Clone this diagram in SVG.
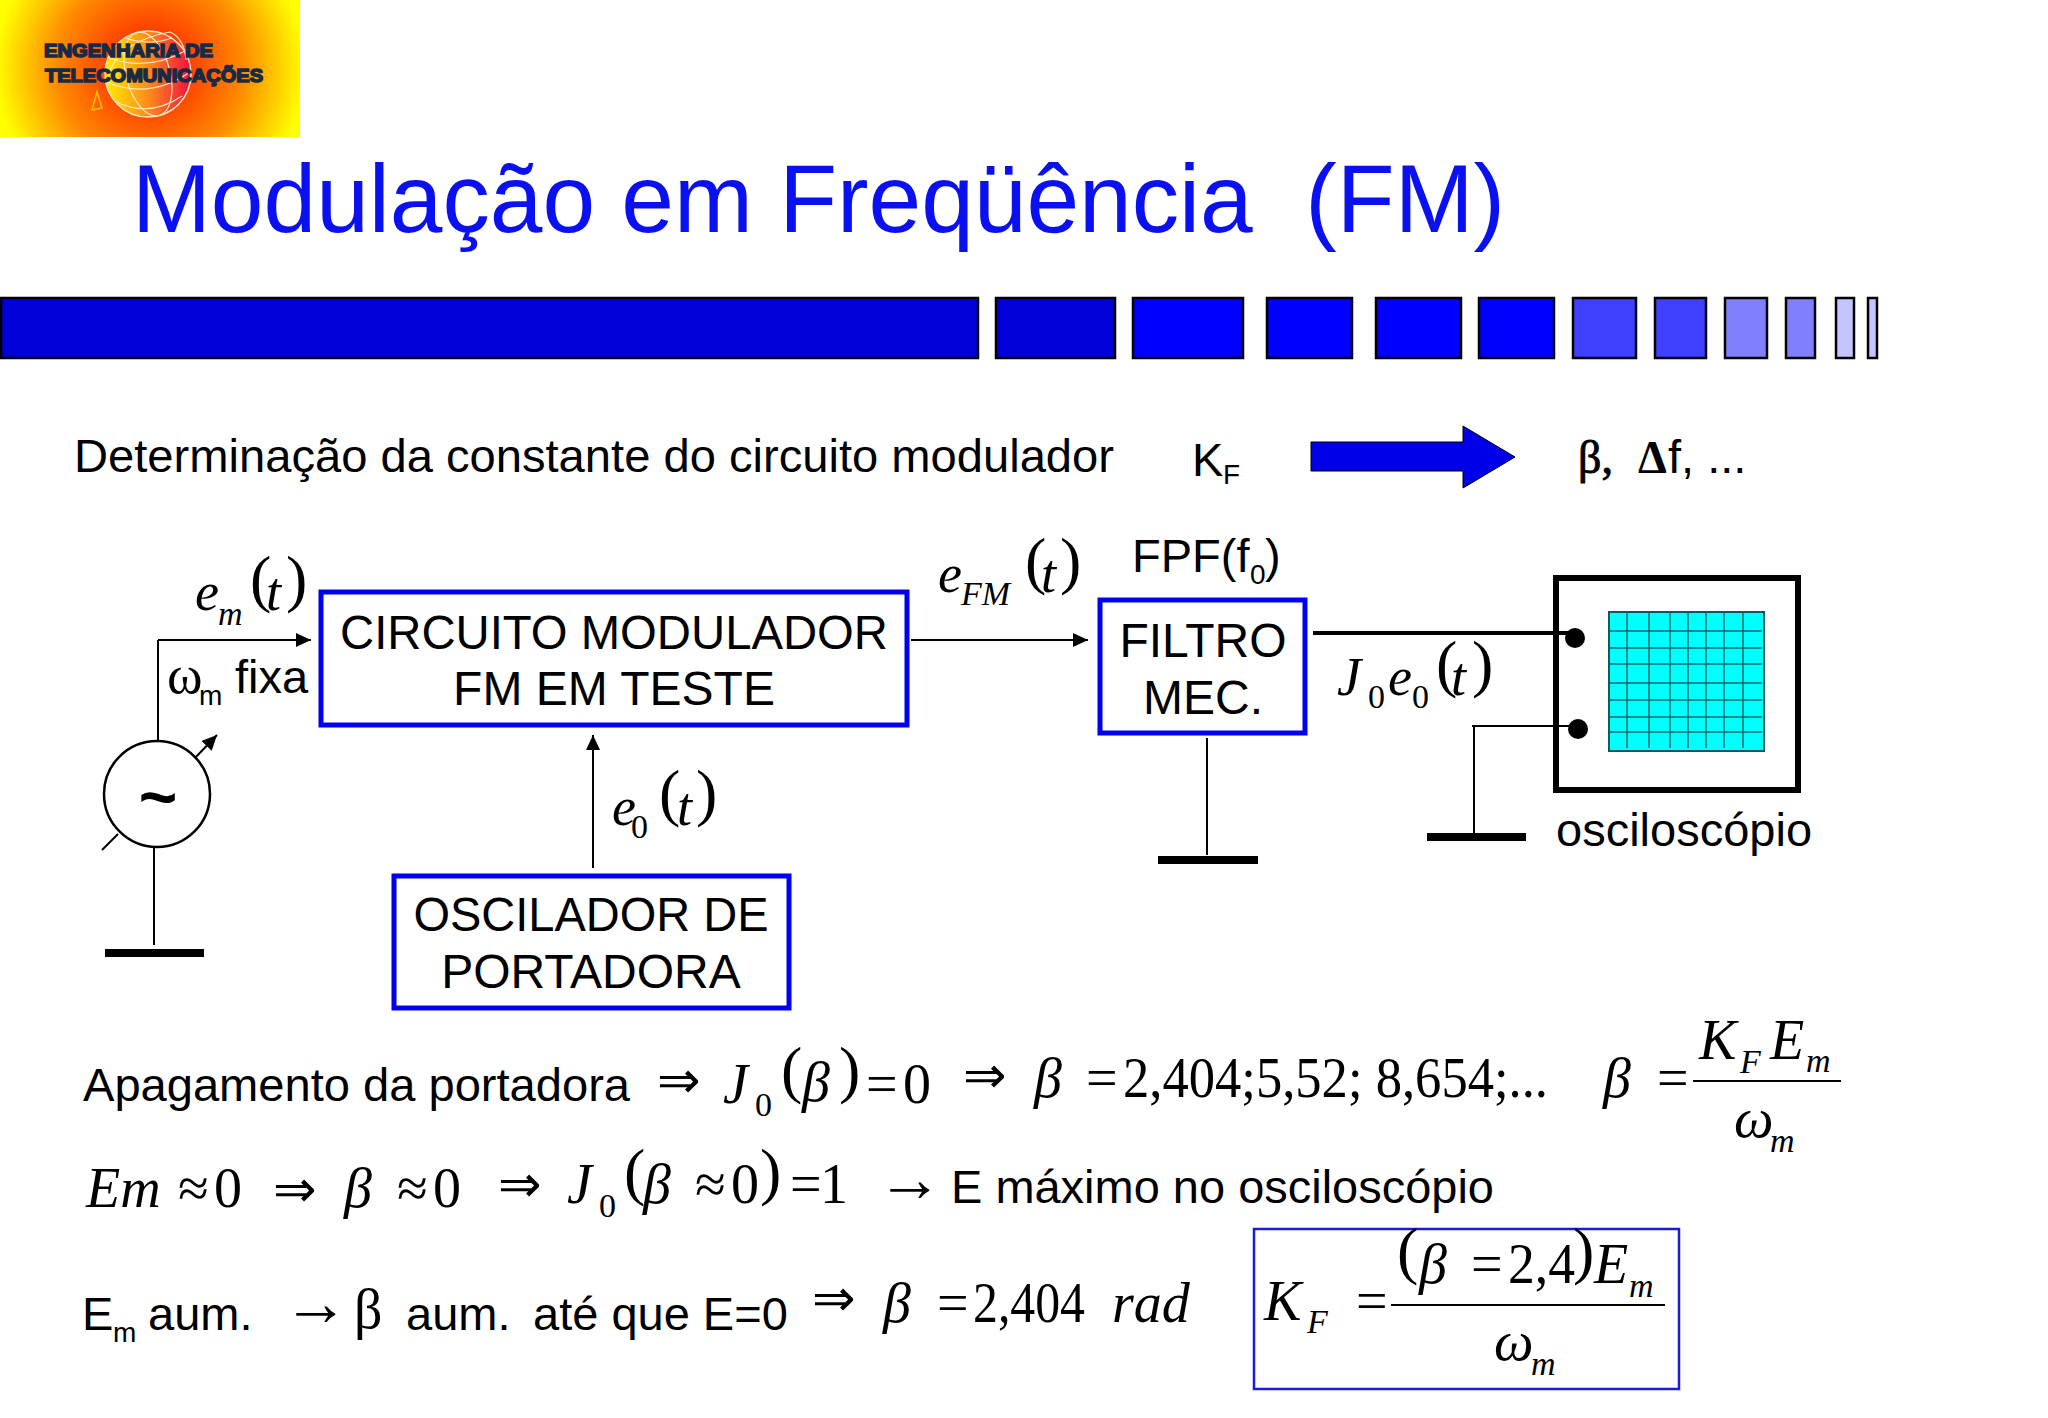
<svg xmlns="http://www.w3.org/2000/svg" width="2048" height="1418" viewBox="0 0 2048 1418">
<style>
text{fill:#000}
.s{font-family:"Liberation Sans",Arial,sans-serif;font-size:47px}
.bx{font-family:"Liberation Sans",Arial,sans-serif;font-size:48px}
.ss{font-family:"Liberation Sans",Arial,sans-serif;font-size:28px}
.m{font-family:"Liberation Serif","DejaVu Serif",serif;font-size:56px}
.n{font-family:"Liberation Serif","DejaVu Serif",serif;font-size:54px}
.h{font-family:"Liberation Serif","DejaVu Serif",serif;font-size:46px}
.i{font-style:italic}
.sub{font-family:"Liberation Serif","DejaVu Serif",serif;font-size:34px}
.p{font-family:"Liberation Serif",serif;font-size:64px}
.sym{font-family:"Liberation Serif","DejaVu Sans",serif;font-size:52px}
.arr{font-family:"Liberation Serif","DejaVu Sans",serif;font-size:66px}
.box{fill:#fff;stroke:#0000f0;stroke-width:5}
.bar{stroke:#000;stroke-width:2.5}
.l{stroke:#000;stroke-width:2;fill:none}
.gnd{fill:#000}
.g{stroke:#0a6a6a;stroke-width:1.5}
</style>
<defs>
<radialGradient id="lg" gradientUnits="userSpaceOnUse" cx="150" cy="68" r="155"><stop offset="0.15" stop-color="#ff2c00"/><stop offset="0.6" stop-color="#ff8a00"/><stop offset="1" stop-color="#ffff00"/></radialGradient>
<linearGradient id="gl"><stop offset="0" stop-color="#ffee00"/><stop offset="0.55" stop-color="#ff8020"/><stop offset="1" stop-color="#f01040"/></linearGradient>
<marker id="ah" markerUnits="userSpaceOnUse" markerWidth="16" markerHeight="14" refX="15" refY="7" orient="auto"><path d="M0 0L15 7L0 14z" fill="#000"/></marker>
</defs>
<rect width="2048" height="1418" fill="#fff"/>
<g id="logo">
<rect x="0" y="0" width="300" height="137" fill="url(#lg)"/>
<circle cx="148" cy="74" r="43" fill="url(#gl)" stroke="#ffe8c0" stroke-width="1.5"/>
<g fill="none" stroke="#ffe8c0" stroke-width="1.2">
<ellipse cx="148" cy="74" rx="22" ry="43" transform="rotate(-15 148 74)"/>
<path d="M109 58Q148 72 187 50M106 82Q150 100 190 72M116 102Q150 118 182 96M125 38Q150 46 172 38"/>
<path d="M110 70Q125 40 170 32Q184 38 186 60"/>
</g>
<path d="M92 110L97 92L102 108z" fill="none" stroke="#ffc000" stroke-width="1.5"/>
<g font-family="'Liberation Sans',Arial,sans-serif" font-weight="700" font-size="19" stroke="#1a2a44" stroke-width="1.6">
<text x="44" y="57" textLength="169" lengthAdjust="spacingAndGlyphs" style="fill:#1a2a44">ENGENHARIA DE</text>
<text x="45" y="82" textLength="218" lengthAdjust="spacingAndGlyphs" style="fill:#1a2a44">TELECOMUNICAÇÕES</text>
</g>
</g>
<text id="title" x="132" y="232" font-family="'Liberation Sans',Arial,sans-serif" font-size="96" style="fill:#0a10f0;white-space:pre" textLength="1373" lengthAdjust="spacingAndGlyphs">Modulação em Freqüência  (FM)</text>
<g id="bar" class="bar">
<rect x="1" y="298" width="977" height="60" fill="#0000d8"/>
<rect x="996" y="298" width="119" height="60" fill="#0000d8"/>
<rect x="1133" y="298" width="110" height="60" fill="#0000ff"/>
<rect x="1267" y="298" width="85" height="60" fill="#0000ff"/>
<rect x="1376" y="298" width="85" height="60" fill="#0000ff"/>
<rect x="1479" y="298" width="75" height="60" fill="#0000ff"/>
<rect x="1573" y="298" width="63" height="60" fill="#4040ff"/>
<rect x="1655" y="298" width="51" height="60" fill="#4040ff"/>
<rect x="1725" y="298" width="42" height="60" fill="#8080ff"/>
<rect x="1786" y="298" width="29" height="60" fill="#8080ff"/>
<rect x="1836" y="298" width="18" height="60" fill="#c4c4ff"/>
<rect x="1868" y="298" width="9" height="60" fill="#c4c4ff"/>
</g>
<text id="heading" class="s" x="74" y="472" textLength="1040" lengthAdjust="spacingAndGlyphs">Determinação da constante do circuito modulador</text>
<g id="kf-label"><text class="s" x="1192" y="476">K</text><text class="ss" x="1223" y="484">F</text></g>
<polygon id="big-arrow" points="1311,442 1463,442 1463,426 1515,457 1463,488 1463,471 1311,471" fill="#0000e8" stroke="#000" stroke-width="1"/>
<g id="beta-label"><text class="h" x="1578" y="473" stroke="#000" stroke-width="0.9">β,</text><text class="h" x="1638" y="473" font-weight="700">Δ</text><text class="s" x="1668" y="473">f, ...</text></g>

<g id="osciloscopio">
<rect x="1556" y="578" width="242" height="212" fill="#fff" stroke="#000" stroke-width="6"/>
<rect x="1609" y="612" width="155" height="139" fill="#00ffff" stroke="#0a5a5a" stroke-width="2"/>
<path class="g" d="M1627 612V748M1649 612V748M1670 612V748M1688 612V748M1706 612V748M1724 612V748M1743 612V748M1609 631H1762M1609 648H1762M1609 664H1762M1609 683H1762M1609 700H1762M1609 717H1762M1609 732H1762"/>
<text class="s" x="1556" y="846">osciloscópio</text>
</g>

<g id="connectors">
<path class="l" d="M158 740V640" />
<path class="l" d="M158 640H311" marker-end="url(#ah)"/>
<path class="l" d="M195 758L217 735" marker-end="url(#ah)"/>
<path class="l" d="M102 850L118 834"/>
<path class="l" d="M154 848V945"/>
<path class="l" d="M911 640H1088" marker-end="url(#ah)"/>
<path class="l" d="M593 868V735" marker-end="url(#ah)"/>
<path class="l" d="M1207 738V855"/>
<path class="l" d="M1313 633H1570" style="stroke-width:4"/>
<path class="l" d="M1472 726H1570M1474 726V836"/>
</g>
<g id="terminais"><circle cx="1575" cy="638" r="10"/><circle cx="1578" cy="729" r="10"/></g>

<g id="generator">
<circle cx="157" cy="794" r="53" fill="#fff" stroke="#000" stroke-width="2.5"/>
<text x="158" y="820" text-anchor="middle" font-family="'Liberation Sans',sans-serif" font-weight="700" font-size="66">~</text>
</g>
<rect id="gnd1" class="gnd" x="105" y="949" width="99" height="8"/>
<rect id="gnd2" class="gnd" x="1158" y="856" width="100" height="8"/>
<rect id="gnd3" class="gnd" x="1427" y="833" width="99" height="8"/>

<g id="em-label"><text class="n i" x="195" y="610">e</text><text class="sub i" x="218" y="625">m</text><text class="p" x="250" y="600">(</text><text class="n i" x="266" y="610">t</text><text class="p" x="286" y="600">)</text></g>
<g id="wm-label"><text class="n" x="167" y="693">ω</text><text class="ss" x="199" y="705">m</text><text class="s" x="235" y="693">fixa</text></g>

<g id="modulador"><rect class="box" x="321" y="592" width="586" height="133"/><text class="bx" x="614" y="649" text-anchor="middle" textLength="548" lengthAdjust="spacingAndGlyphs">CIRCUITO MODULADOR</text><text class="bx" x="614" y="705" text-anchor="middle">FM EM TESTE</text></g>
<g id="oscilador"><rect class="box" x="394" y="876" width="395" height="132"/><text class="bx" x="591" y="931" text-anchor="middle" textLength="355" lengthAdjust="spacingAndGlyphs">OSCILADOR DE</text><text class="bx" x="591" y="988" text-anchor="middle">PORTADORA</text></g>
<g id="filtro"><rect class="box" x="1100" y="600" width="205" height="133"/><text class="bx" x="1203" y="657" text-anchor="middle">FILTRO</text><text class="bx" x="1203" y="714" text-anchor="middle">MEC.</text></g>
<g id="fpf"><text class="s" x="1132" y="572">FPF(f</text><text class="ss" x="1250" y="584">0</text><text class="s" x="1265" y="572">)</text></g>
<g id="e0-label"><text class="n i" x="612" y="825">e</text><text class="sub" x="631" y="838">0</text><text class="p" x="659" y="814">(</text><text class="n i" x="677" y="825">t</text><text class="p" x="696" y="814">)</text></g>
<g id="efm-label"><text class="n i" x="938" y="592">e</text><text class="sub i" x="961" y="605">FM</text><text class="p" x="1025" y="582">(</text><text class="n i" x="1041" y="592">t</text><text class="p" x="1060" y="582">)</text></g>
<g id="j0-label"><text class="n i" x="1337" y="695">J</text><text class="sub" x="1368" y="708">0</text><text class="n i" x="1388" y="695">e</text><text class="sub" x="1412" y="708">0</text><text class="p" x="1436" y="685">(</text><text class="n i" x="1451" y="695">t</text><text class="p" x="1472" y="685">)</text></g>

<g id="linha1">
<text class="s" x="83" y="1101" textLength="547" lengthAdjust="spacingAndGlyphs">Apagamento da portadora</text>
<text class="sym" x="657" y="1098">⇒</text>
<text class="m i" x="723" y="1103">J</text><text class="sub" x="755" y="1116">0</text><text class="p" x="781" y="1091">(</text><text class="m i" x="802" y="1101">β</text><text class="p" x="839" y="1091">)</text><text class="m" x="866" y="1103">=</text><text class="m" x="903" y="1103">0</text>
<text class="sym" x="963" y="1093">⇒</text>
<text class="m i" x="1034" y="1097">β</text><text class="m" x="1086" y="1097">=</text><text class="m" x="1123" y="1097" textLength="425" lengthAdjust="spacingAndGlyphs">2,404;5,52; 8,654;...</text>
<text class="m i" x="1603" y="1097">β</text><text class="m" x="1657" y="1097">=</text>
<text class="m i" x="1699" y="1059">K</text><text class="sub i" x="1740" y="1073">F</text><text class="m i" x="1770" y="1059">E</text><text class="sub i" x="1806" y="1072">m</text>
<path d="M1693 1081H1841" stroke="#000" stroke-width="2"/>
<text class="m i" x="1734" y="1137">ω</text><text class="sub i" x="1770" y="1152">m</text>
</g>
<g id="linha2">
<text class="m i" x="86" y="1207">Em</text><text class="m" x="178" y="1207">≈</text><text class="m" x="214" y="1207">0</text>
<text class="sym" x="273" y="1207">⇒</text>
<text class="m i" x="344" y="1207">β</text><text class="m" x="397" y="1207">≈</text><text class="m" x="433" y="1207">0</text>
<text class="sym" x="498" y="1202">⇒</text>
<text class="m i" x="567" y="1203">J</text><text class="sub" x="599" y="1217">0</text><text class="p" x="624" y="1193">(</text><text class="m i" x="643" y="1203">β</text><text class="m" x="695" y="1203">≈</text><text class="m" x="731" y="1203">0</text><text class="p" x="760" y="1193">)</text><text class="m" x="790" y="1203">=</text><text class="m" x="820" y="1203">1</text>
<text class="arr" x="877" y="1201">→</text>
<text class="s" x="951" y="1203" textLength="543" lengthAdjust="spacingAndGlyphs">E máximo no osciloscópio</text>
</g>
<g id="linha3">
<text class="s" x="82" y="1330">E</text><text class="ss" x="113" y="1342">m</text><text class="s" x="148" y="1330">aum.</text>
<text class="arr" x="283" y="1325">→</text><text class="m" x="354" y="1328">β</text>
<text class="s" x="406" y="1330">aum.</text><text class="s" x="533" y="1330">até que E=0</text>
<text class="sym" x="812" y="1316">⇒</text>
<text class="m i" x="883" y="1322">β</text><text class="m" x="937" y="1322">=</text><text class="m" x="973" y="1322" textLength="112" lengthAdjust="spacingAndGlyphs">2,404</text><text class="m i" x="1112" y="1322">rad</text>
</g>
<g id="kf-box">
<rect x="1254" y="1229" width="425" height="160" fill="none" stroke="#1c1cd8" stroke-width="2.5"/>
<text class="m i" x="1264" y="1320">K</text><text class="sub i" x="1307" y="1333">F</text><text class="m" x="1356" y="1320">=</text>
<text class="p" x="1397" y="1272">(</text><text class="m i" x="1419" y="1283">β</text><text class="m" x="1471" y="1283">=</text><text class="m" x="1508" y="1283" textLength="67" lengthAdjust="spacingAndGlyphs">2,4</text><text class="p" x="1573" y="1272">)</text><text class="m i" x="1594" y="1283">E</text><text class="sub i" x="1629" y="1297">m</text>
<path d="M1391 1305H1665" stroke="#000" stroke-width="2"/>
<text class="m i" x="1494" y="1360">ω</text><text class="sub i" x="1531" y="1375">m</text>
</g>
</svg>
